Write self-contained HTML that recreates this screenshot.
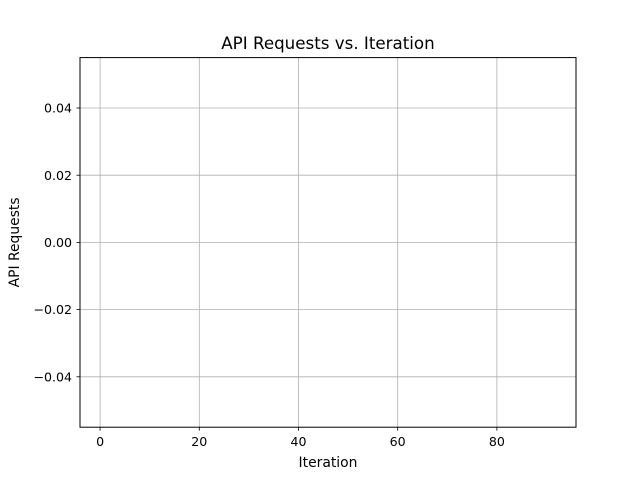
<!DOCTYPE html>
<html><head><meta charset="utf-8"><style>
body{margin:0;background:#fff;}
svg{display:block;font-family:"DejaVu Sans","Liberation Sans",sans-serif;}
</style></head><body>
<svg id="chart" width="640" height="480">
<rect x="0" y="0" width="640" height="480" fill="#fff"/>
<g id="grid"></g>
<g id="ticks"></g>
<g id="series"></g>
<rect x="80" y="57.6" width="496" height="369.6" fill="none" stroke="#000" stroke-width="1"/>
<text x="328" y="49" font-size="16.7" text-anchor="middle">API Requests vs. Iteration</text>
<text x="328" y="467" font-size="13.9" text-anchor="middle">Iteration</text>
<text x="19" y="242.4" font-size="13.9" text-anchor="middle" transform="rotate(-90 19 242.4)">API Requests</text>
</svg>
<script>
const xTicks = [0, 20, 40, 60, 80];
const yTicks = [-0.04, -0.02, 0.00, 0.02, 0.04];
const yTickLabels = ["\u22120.04", "\u22120.02", "0.00", "0.02", "0.04"];
const iterations = [];
const requests = [];
const L=80,R=576,T=57.6,B=427.2;
const xMin=-4.05,xMax=95.95,yMin=-0.055,yMax=0.055;
function sx(v){return L+(v-xMin)/(xMax-xMin)*(R-L);}
function sy(v){return B-(v-yMin)/(yMax-yMin)*(B-T);}
const NS="http://www.w3.org/2000/svg";
const grid=document.getElementById('grid'),ticks=document.getElementById('ticks');
function mk(tag,attrs,parent){const e=document.createElementNS(NS,tag);for(const k in attrs)e.setAttribute(k,attrs[k]);parent.appendChild(e);return e;}
xTicks.forEach(v=>{const x=sx(v);
 const g=mk('line',{x1:x,x2:x,y1:T,y2:B,stroke:'#b0b0b0','stroke-width':0.8},grid);
 
 
 const t=mk('line',{x1:x,x2:x,y1:B,y2:B+3.5,stroke:'#000','stroke-width':0.8},ticks);
 
 
 const l=mk('text',{x:x,y:B+19,'font-size':12.6,'text-anchor':'middle'},ticks);l.textContent=String(v);
 
 
});
yTicks.forEach((v,i)=>{const y=sy(v);
 const g=mk('line',{x1:L,x2:R,y1:y,y2:y,stroke:'#b0b0b0','stroke-width':0.8},grid);
 
 
 const t=mk('line',{x1:L-3.5,x2:L,y1:y,y2:y,stroke:'#000','stroke-width':0.8},ticks);
 
 
 const l=mk('text',{x:L-8,y:y+4.6,'font-size':12.6,'text-anchor':'end'},ticks);l.textContent=yTickLabels[i];
 
 
});
if(iterations.length){
 const p=mk('polyline',{points:iterations.map((x,i)=>sx(x)+','+sy(requests[i])).join(' '),fill:'none',stroke:'#1f77b4','stroke-width':1.5},document.getElementById('series'));
 
 
}
</script>
</body></html>
